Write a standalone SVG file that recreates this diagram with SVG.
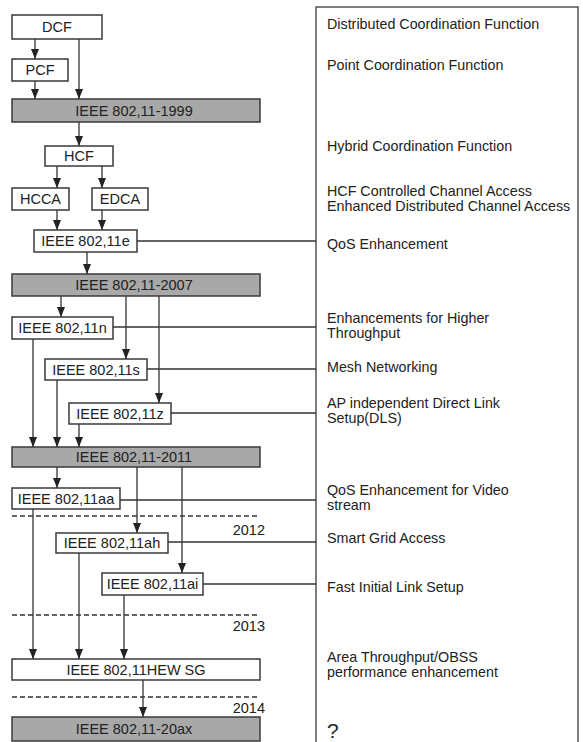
<svg xmlns="http://www.w3.org/2000/svg" width="583" height="742" viewBox="0 0 583 742">
<style>
.box{fill:#fff;stroke:#3a3a3a;stroke-width:1.5}
.gbox{fill:#a8a8a8;stroke:#3a3a3a;stroke-width:1.5}
.bt{font-family:"Liberation Sans",Arial,sans-serif;font-size:14.5px;fill:#222;text-anchor:middle}
.rt{font-family:"Liberation Sans",Arial,sans-serif;font-size:14.3px;fill:#222}
.yr{font-family:"Liberation Sans",Arial,sans-serif;font-size:14.5px;fill:#222;text-anchor:end}
.ln{stroke:#333;stroke-width:1.3;fill:none}
.ar{stroke:#333;stroke-width:1.3;fill:none;marker-end:url(#ah)}
.dash{stroke:#333;stroke-width:1.3;stroke-dasharray:5,3;fill:none}
</style>
<defs>
<marker id="ah" markerUnits="userSpaceOnUse" markerWidth="10" markerHeight="10" viewBox="0 0 10 10" refX="10" refY="5" orient="auto">
<path d="M0,1 L10,5 L0,9 Z" fill="#222"/>
</marker>
</defs>
<rect width="583" height="742" fill="#fff"/>
<g id="panel">
<rect x="316" y="7" width="262" height="745" fill="none" stroke="#3a3a3a" stroke-width="1.3"/>
<text class="rt" x="327" y="29">Distributed Coordination Function</text>
<text class="rt" x="327" y="70">Point Coordination Function</text>
<text class="rt" x="327" y="151">Hybrid Coordination Function</text>
<text class="rt" x="327" y="196">HCF Controlled Channel Access</text>
<text class="rt" x="327" y="211">Enhanced Distributed Channel Access</text>
<text class="rt" x="327" y="249">QoS Enhancement</text>
<text class="rt" x="327" y="323">Enhancements for Higher</text>
<text class="rt" x="327" y="338">Throughput</text>
<text class="rt" x="327" y="372">Mesh Networking</text>
<text class="rt" x="327" y="408">AP independent Direct Link</text>
<text class="rt" x="327" y="423">Setup(DLS)</text>
<text class="rt" x="327" y="495">QoS Enhancement for Video</text>
<text class="rt" x="327" y="510">stream</text>
<text class="rt" x="327" y="543">Smart Grid Access</text>
<text class="rt" x="327" y="592">Fast Initial Link Setup</text>
<text class="rt" x="327" y="662">Area Throughput/OBSS</text>
<text class="rt" x="327" y="677">performance enhancement</text>
<text class="rt" x="327" y="738" style="font-size:21px">?</text>
</g>
<g id="connectors">
<line class="ar" x1="35" y1="39" x2="35" y2="59"/>
<line class="ar" x1="79" y1="39" x2="79" y2="99"/>
<line class="ar" x1="35" y1="81" x2="35" y2="99"/>
<line class="ar" x1="79" y1="122" x2="79" y2="146"/>
<line class="ar" x1="57" y1="166" x2="57" y2="188"/>
<line class="ar" x1="102" y1="166" x2="102" y2="188"/>
<line class="ar" x1="57" y1="210" x2="57" y2="230"/>
<line class="ar" x1="102" y1="210" x2="102" y2="230"/>
<line class="ar" x1="87" y1="252" x2="87" y2="274"/>
<line class="ar" x1="61" y1="296" x2="61" y2="317"/>
<line class="ar" x1="126" y1="296" x2="126" y2="359"/>
<line class="ar" x1="159" y1="296" x2="159" y2="403"/>
<line class="ar" x1="33" y1="339" x2="33" y2="447"/>
<line class="ar" x1="57" y1="380" x2="57" y2="447"/>
<line class="ar" x1="79" y1="424" x2="79" y2="447"/>
<line class="ar" x1="57" y1="467" x2="57" y2="488"/>
<line class="ar" x1="137" y1="467" x2="137" y2="533"/>
<line class="ar" x1="182" y1="467" x2="182" y2="573"/>
<line class="ar" x1="33" y1="509" x2="33" y2="659"/>
<line class="ar" x1="79" y1="553" x2="79" y2="659"/>
<line class="ar" x1="124" y1="595" x2="124" y2="659"/>
<line class="ar" x1="143" y1="680" x2="143" y2="717"/>
<line class="ln" x1="137" y1="241" x2="316" y2="241"/>
<line class="ln" x1="113" y1="327" x2="316" y2="327"/>
<line class="ln" x1="147" y1="369" x2="316" y2="369"/>
<line class="ln" x1="171" y1="413" x2="316" y2="413"/>
<line class="ln" x1="120" y1="500" x2="316" y2="500"/>
<line class="ln" x1="168" y1="542" x2="316" y2="542"/>
<line class="ln" x1="203" y1="584" x2="316" y2="584"/>
</g>
<g id="timeline">
<line class="dash" x1="12" y1="516" x2="257" y2="516"/>
<line class="dash" x1="12" y1="615" x2="257" y2="615"/>
<line class="dash" x1="12" y1="697" x2="257" y2="697"/>
<text class="yr" x="265" y="535">2012</text>
<text class="yr" x="265" y="631">2013</text>
<text class="yr" x="265" y="713">2014</text>
</g>
<g id="dcf"><rect class="box" x="12" y="15" width="90" height="24"/><text class="bt" x="57" y="32">DCF</text></g>
<g id="pcf"><rect class="box" x="12" y="59" width="56" height="22"/><text class="bt" x="40" y="75">PCF</text></g>
<g id="ieee1999"><rect class="gbox" x="12" y="99" width="248" height="23"/><text class="bt" x="134" y="115.5">IEEE 802,11-1999</text></g>
<g id="hcf"><rect class="box" x="45" y="146" width="68" height="20"/><text class="bt" x="79" y="161">HCF</text></g>
<g id="hcca"><rect class="box" x="12" y="188" width="57" height="22"/><text class="bt" x="40.5" y="204">HCCA</text></g>
<g id="edca"><rect class="box" x="92" y="188" width="56" height="22"/><text class="bt" x="120" y="204">EDCA</text></g>
<g id="ieee11e"><rect class="box" x="34" y="230" width="103" height="22"/><text class="bt" x="85.5" y="246">IEEE 802,11e</text></g>
<g id="ieee2007"><rect class="gbox" x="12" y="274" width="248" height="22"/><text class="bt" x="134" y="290">IEEE 802,11-2007</text></g>
<g id="ieee11n"><rect class="box" x="12" y="317" width="101" height="22"/><text class="bt" x="62.5" y="333">IEEE 802,11n</text></g>
<g id="ieee11s"><rect class="box" x="45" y="359" width="102" height="21"/><text class="bt" x="96" y="374.5">IEEE 802,11s</text></g>
<g id="ieee11z"><rect class="box" x="69" y="403" width="102" height="21"/><text class="bt" x="120" y="418.5">IEEE 802,11z</text></g>
<g id="ieee2011"><rect class="gbox" x="12" y="447" width="248" height="20"/><text class="bt" x="134" y="462">IEEE 802,11-2011</text></g>
<g id="ieee11aa"><rect class="box" x="12" y="488" width="108" height="21"/><text class="bt" x="66" y="503.5">IEEE 802,11aa</text></g>
<g id="ieee11ah"><rect class="box" x="56" y="533" width="112" height="20"/><text class="bt" x="112" y="548">IEEE 802,11ah</text></g>
<g id="ieee11ai"><rect class="box" x="102" y="573" width="101" height="22"/><text class="bt" x="152.5" y="589">IEEE 802,11ai</text></g>
<g id="hewsg"><rect class="box" x="12" y="659" width="248" height="21"/><text class="bt" x="136" y="674.5">IEEE 802,11HEW SG</text></g>
<g id="ieee20ax"><rect class="gbox" x="12" y="717" width="248" height="24"/><text class="bt" x="134" y="734">IEEE 802,11-20ax</text></g>
</svg>
